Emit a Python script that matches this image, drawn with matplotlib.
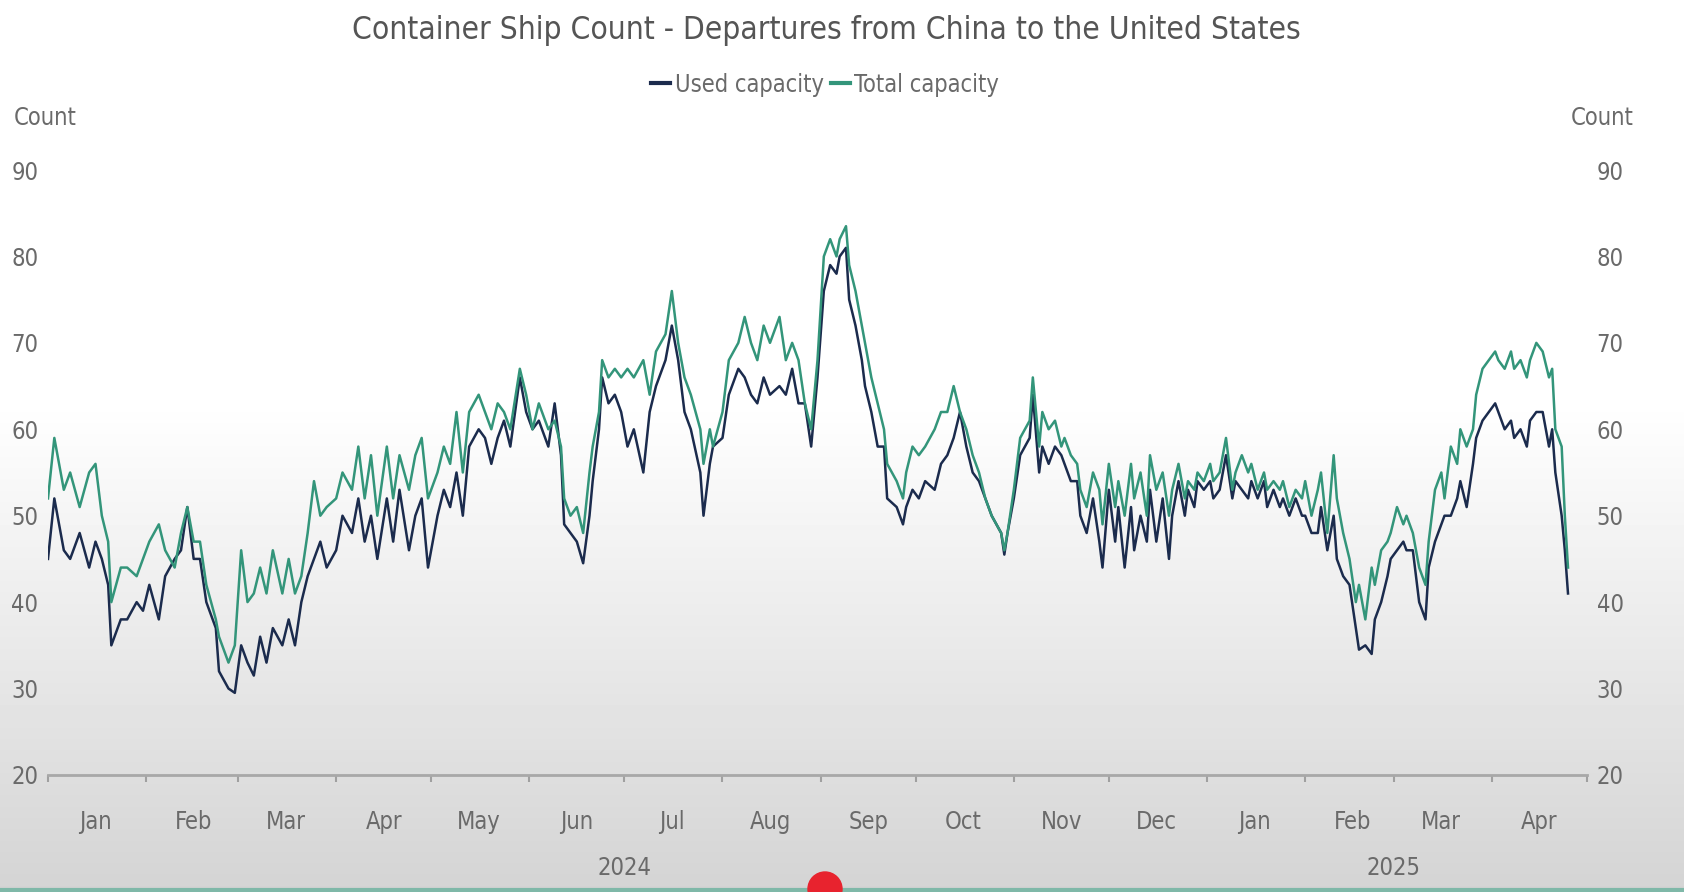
import numpy as np
import pandas as pd
import matplotlib
matplotlib.use("Agg")
import matplotlib.pyplot as plt
import matplotlib.dates as mdates
import matplotlib.transforms as mtransforms

plt.rcParams['font.family'] = ['DejaVu Sans']
plt.rcParams['font.stretch'] = 'condensed'

# days since 2024-01-01
days = [0, 2, 5, 7, 10, 13, 15, 17, 19, 20, 23, 25, 28, 30, 32, 35, 37, 40, 42, 44,
        46, 48, 50, 53, 54, 57, 59, 61, 63, 65, 67, 69, 71, 74, 76, 78, 80, 82, 84, 86,
        88, 91, 93, 96, 98, 100, 102, 104, 107, 109, 111, 114, 116, 118, 120, 123, 125, 127, 129, 131,
        133, 136, 138, 140, 142, 144, 146, 149, 151, 153, 155, 158, 160, 162, 163, 165, 167, 169, 171, 172,
        174, 175, 177, 179, 181, 183, 185, 188, 190, 192, 195, 197, 199, 201, 203, 206, 207, 209, 210, 213,
        215, 218, 220, 222, 224, 226, 228, 231, 233, 235, 237, 239, 241, 243, 245, 247, 249, 250, 252, 253,
        255, 257, 258, 260, 262, 264, 265, 268, 270, 271, 273, 275, 277, 280, 282, 284, 286, 288, 290, 292,
        294, 296, 298, 301, 302, 303, 305, 307, 310, 311, 313, 314, 316, 318, 320, 321, 323, 325, 326, 328,
        330, 332, 333, 335, 337, 338, 340, 342, 343, 345, 347, 348, 350, 352, 354, 355, 357, 359, 360, 362,
        363, 365, 367, 368, 370, 372, 374, 375, 377, 379, 380, 382, 384, 385, 387, 389, 390, 392, 394, 396,
        397, 399, 401, 402, 404, 406, 407, 409, 411, 413, 414, 416, 418, 419, 421, 423, 424, 426, 428, 429,
        431, 433, 435, 436, 438, 440, 441, 443, 445, 446, 448, 450, 451, 453, 455, 457, 458, 460, 462, 463,
        465, 467, 468, 470, 472, 474, 475, 476, 478, 479, 480]

total_capacity = [52, 59, 53, 55, 51, 55, 56, 50, 47, 40, 44, 44, 43, 45, 47, 49, 46, 44, 48, 51,
                  47, 47, 42, 38, 36, 33, 35, 46, 40, 41, 44, 41, 46, 41, 45, 41, 43, 48, 54, 50,
                  51, 52, 55, 53, 58, 52, 57, 50, 58, 52, 57, 53, 57, 59, 52, 55, 58, 56, 62, 55,
                  62, 64, 62, 60, 63, 62, 60, 67, 64, 60, 63, 60, 61, 58, 52, 50, 51, 48, 55, 58,
                  62, 68, 66, 67, 66, 67, 66, 68, 64, 69, 71, 76, 70, 66, 64, 60, 56, 60, 58, 62,
                  68, 70, 73, 70, 68, 72, 70, 73, 68, 70, 68, 63, 60, 68, 80, 82, 80, 82, 83.5, 79,
                  76, 72, 70, 66, 63, 60, 56, 54, 52, 55, 58, 57, 58, 60, 62, 62, 65, 62, 60, 57,
                  55, 52, 50, 48, 46, 48, 53, 59, 61, 66, 58, 62, 60, 61, 58, 59, 57, 56, 53, 51,
                  55, 53, 49, 56, 51, 54, 50, 56, 52, 55, 50, 57, 53, 55, 50, 53, 56, 52, 54, 53,
                  55, 54, 56, 54, 55, 59, 53, 55, 57, 55, 56, 53, 55, 53, 54, 53, 54, 51, 53, 52,
                  54, 50, 53, 55, 48, 57, 52, 48, 45, 40, 42, 38, 44, 42, 46, 47, 48, 51, 49, 50,
                  48, 44, 42, 47, 53, 55, 52, 58, 56, 60, 58, 60, 64, 67, 68, 69, 68, 67, 69, 67,
                  68, 66, 68, 70, 69, 66, 67, 60, 58, 50, 44]

used_capacity = [45, 52, 46, 45, 48, 44, 47, 45, 42, 35, 38, 38, 40, 39, 42, 38, 43, 45, 46, 51,
                 45, 45, 40, 37, 32, 30, 29.5, 35, 33, 31.5, 36, 33, 37, 35, 38, 35, 40, 43, 45, 47,
                 44, 46, 50, 48, 52, 47, 50, 45, 52, 47, 53, 46, 50, 52, 44, 50, 53, 51, 55, 50,
                 58, 60, 59, 56, 59, 61, 58, 66, 62, 60, 61, 58, 63, 57, 49, 48, 47, 44.5, 50, 54,
                 60, 66, 63, 64, 62, 58, 60, 55, 62, 65, 68, 72, 68, 62, 60, 55, 50, 56, 58, 59,
                 64, 67, 66, 64, 63, 66, 64, 65, 64, 67, 63, 63, 58, 66, 76, 79, 78, 80, 81, 75,
                 72, 68, 65, 62, 58, 58, 52, 51, 49, 51, 53, 52, 54, 53, 56, 57, 59, 62, 58, 55,
                 54, 52, 50, 48, 45.5, 48, 52, 57, 59, 64, 55, 58, 56, 58, 57, 56, 54, 54, 50, 48,
                 52, 47, 44, 53, 47, 51, 44, 51, 46, 50, 47, 53, 47, 52, 45, 50, 54, 50, 53, 51,
                 54, 53, 54, 52, 53, 57, 52, 54, 53, 52, 54, 52, 54, 51, 53, 51, 52, 50, 52, 50,
                 50, 48, 48, 51, 46, 50, 45, 43, 42, 37, 34.5, 35, 34, 38, 40, 43, 45, 46, 47, 46,
                 46, 40, 38, 44, 47, 49, 50, 50, 52, 54, 51, 56, 59, 61, 62, 63, 62, 60, 61, 59,
                 60, 58, 61, 62, 62, 58, 60, 55, 50, 46, 41]

y_ticks = [20, 30, 40, 50, 60, 70, 80, 90]
years = ["2024", "2025"]

start = pd.Timestamp("2024-01-01")
dates = start + pd.to_timedelta(days, unit="D")

used_color = "#1b2b4d"
total_color = "#33957a"
text_color = "#6a6a6a"

fig = plt.figure(figsize=(16.84, 8.92), dpi=100)

# background: white on top fading to light grey at the bottom
bg = fig.add_axes([0, 0, 1, 1], zorder=-10)
grad = np.concatenate([np.ones(400), np.linspace(1.0, 0.83, 492)])
bg.imshow(grad[:, None], aspect="auto", cmap="gray", vmin=0, vmax=1,
          extent=[0, 1, 0, 1], origin="upper")
bg.axis("off")

ax = fig.add_axes([0.0285, 0.1312, 0.9139, 0.6782])
ax.patch.set_alpha(0)

ax.plot(dates, total_capacity, color=total_color, lw=1.8, label="Total capacity", zorder=3)
ax.plot(dates, used_capacity, color=used_color, lw=1.8, label="Used capacity", zorder=2)

ax.set_ylim(20, 90)
ax.set_xlim(pd.Timestamp("2024-01-01"), pd.Timestamp("2025-05-01"))
ax.set_yticks(y_ticks)
ax.tick_params(axis="y", length=0, labelsize=17, labelcolor=text_color,
               labelleft=True, labelright=True, pad=7)

for s in ["top", "left", "right"]:
    ax.spines[s].set_visible(False)
ax.spines["bottom"].set_color("#a8a8a8")
ax.spines["bottom"].set_linewidth(2)

ax.xaxis.set_major_locator(mdates.MonthLocator())
ax.xaxis.set_major_formatter(plt.NullFormatter())
ax.xaxis.set_minor_locator(mdates.MonthLocator(bymonthday=16))
ax.xaxis.set_minor_formatter(mdates.DateFormatter("%b"))
ax.tick_params(axis="x", which="major", length=5, width=1.5, color="#a0a0a0")
ax.tick_params(axis="x", which="minor", length=0, labelsize=17, labelcolor=text_color, pad=25)

trans = mtransforms.blended_transform_factory(ax.transData, fig.transFigure)
ax.text(pd.Timestamp("2024-07-01"), 0.027, years[0], transform=trans, ha="center",
        va="center", fontsize=17, color=text_color)
ax.text(pd.Timestamp("2025-03-01"), 0.027, years[1], transform=trans, ha="center",
        va="center", fontsize=17, color=text_color)

fig.text(0.008, 0.868, "Count", ha="left", va="center", fontsize=17, color=text_color)
fig.text(0.970, 0.868, "Count", ha="right", va="center", fontsize=17, color=text_color)

fig.text(0.491, 0.966, "Container Ship Count - Departures from China to the United States",
         ha="center", va="center", fontsize=22.7, color="#555555")

leg = fig.legend(handles=[ax.lines[1], ax.lines[0]], loc="center", bbox_to_anchor=(0.49, 0.905),
                 ncol=2, frameon=False, fontsize=17, handlelength=0.8, handletextpad=0.2,
                 columnspacing=0.3, labelcolor=text_color)
for h in leg.legend_handles:
    h.set_linewidth(3)

# bottom strip and progress marker of the screenshot
fig.add_artist(plt.Line2D([0, 1], [0.002, 0.002], transform=fig.transFigure,
                          color="#7fb8a8", lw=3))
fig.add_artist(plt.Circle((825, 3), 17, transform=None, color="#e8232e", zorder=20))

fig.savefig("out.png", dpi=100)
